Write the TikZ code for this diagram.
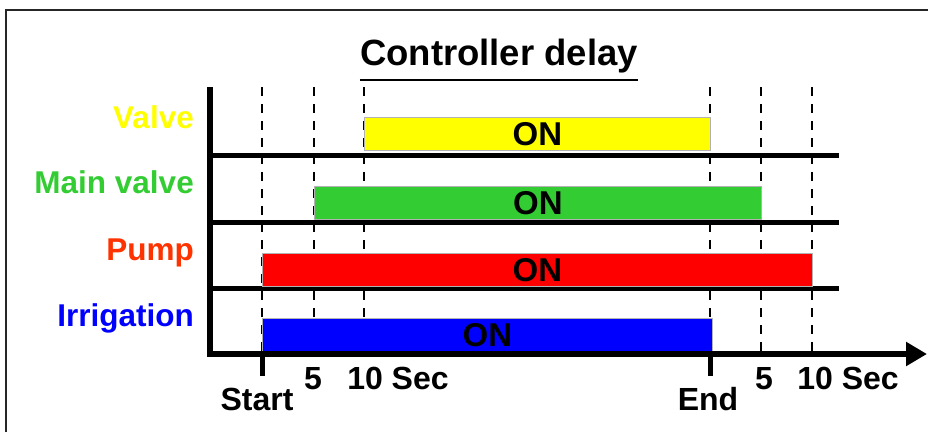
\documentclass[tikz,border=0pt]{standalone}
\usepackage{fontspec}
\setmainfont{Liberation Sans}
\usetikzlibrary{arrows.meta}

\definecolor{valveyellow}{HTML}{FFFF00}
\definecolor{maingreen}{HTML}{33CC33}
\definecolor{pumpred}{HTML}{FF3300}
\definecolor{barred}{HTML}{FF0000}
\definecolor{irrblue}{HTML}{0000FF}

\begin{document}
\begin{tikzpicture}[x=1pt, y=-1pt,
  every node/.style={font=\fontsize{31.5}{36}\selectfont\bfseries, inner sep=0pt},
  rowlbl/.style ={anchor=base east},
  ticklbl/.style={anchor=base, font=\fontsize{32}{36}\selectfont\bfseries},
  bar/.style    ={draw=gray!60, line width=0.8pt, anchor=north west, minimum height=33pt,
                  font=\fontsize{33}{36}\selectfont\bfseries},
  rowline/.style={line width=5pt},
  axis/.style   ={line width=6pt, -{Triangle[length=21pt, width=23pt]}},
  guide/.style  ={line width=2.4pt, dash pattern=on 9pt off 8pt},
  tickmark/.style={line width=5pt},
]
\useasboundingbox (0,0) rectangle (928,432);

% frame
\draw[line width=1.5pt, black!85] (6,432) -- (6,10) -- (928,10);

% title
\node[anchor=base, font=\fontsize{36.5}{42}\selectfont\bfseries] (title) at (499,65) {Controller delay};
\draw[line width=2.5pt] ([yshift=-15pt]title.base west) -- ([yshift=-15pt]title.base east);

% axes
\coordinate (ytop) at (210,87);
\coordinate (orig) at (210,354);
\coordinate (xend) at (927,354);

% dashed time guides
\foreach \t/\n in {262/s0, 314/s5, 364/s10, 710/e0, 761/e5, 812/e10} {
  \coordinate (\n-top) at (\t,87);
  \coordinate (\n-bot) at (\t,354);
  \draw[guide] (\n-top) -- (\n-bot);
}

% row lines
\foreach \y/\n in {155/valve, 222/main, 288/pump} {
  \coordinate (\n-L) at (210,\y);
  \coordinate (\n-R) at (839,\y);
  \draw[rowline] (\n-L) -- (\n-R);
}

% bars
\node[bar, fill=valveyellow, minimum width=346pt] (valvebar) at (364,117) {ON};
\node[bar, fill=maingreen,   minimum width=447pt] (mainbar)  at (314,186) {ON};
\node[bar, fill=barred,      minimum width=550pt] (pumpbar)  at (262,253) {ON};
\node[bar, fill=irrblue,     minimum width=450pt] (irrbar)   at (262,318) {ON};

\draw[axis] (ytop) -- (orig) -- (xend);

% start / end ticks
\coordinate (st) at (262,376);
\coordinate (en) at (710,376);
\draw[tickmark] (s0-bot) -- (st);
\draw[tickmark] (e0-bot) -- (en);

% row labels
\node[rowlbl, text=valveyellow] (valvelbl) at (194,128) {Valve};
\node[rowlbl, text=maingreen]   (mainlbl)  at (194,193) {Main valve};
\node[rowlbl, text=pumpred]     (pumplbl)  at (194,260) {Pump};
\node[rowlbl, text=irrblue]     (irrlbl)   at (194,326) {Irrigation};

% time labels
\node[ticklbl] (startlbl) at (257,410) {Start};
\node[ticklbl] (five1)    at (313,389) {5};
\node[ticklbl] (ten1)     at (398,389) {10 Sec};
\node[ticklbl] (endlbl)   at (708,410) {End};
\node[ticklbl] (five2)    at (764,389) {5};
\node[ticklbl] (ten2)     at (848,389) {10 Sec};
\end{tikzpicture}
\end{document}
